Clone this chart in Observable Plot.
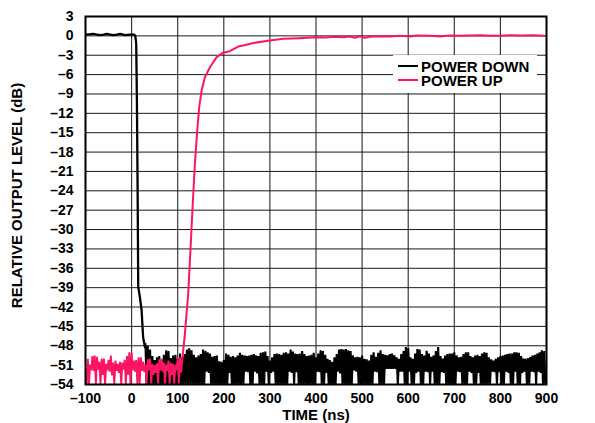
<!DOCTYPE html>
<html>
<head>
<meta charset="utf-8">
<script src="https://cdn.jsdelivr.net/npm/d3@7"></script>
<script src="https://cdn.jsdelivr.net/npm/@observablehq/plot@0.6"></script>
<style>
  html, body { margin: 0; padding: 0; background: #fff; }
  #wrap { position: relative; width: 595px; height: 423px; font-family: "Liberation Sans", Arial, sans-serif; }
  #legend { position: absolute; left: 393px; top: 55px; width: 144px; height: 38px; background: #fff;
            font-weight: bold; font-size: 15px; line-height: 13px; color: #000; }
  .row { position: absolute; left: 5px; display: flex; align-items: center; height: 13px; white-space: nowrap; }
  .sw { width: 20px; height: 0; border-top-width: 2.5px; border-top-style: solid; margin-right: 3px; }
</style>
</head>
<body>
<div id="wrap">
  <div id="chart"></div>
  <div id="legend">
    <div class="row" style="top:4.5px"><div class="sw" style="border-top-color:#000"></div><span>POWER DOWN</span></div>
    <div class="row" style="top:18.5px"><div class="sw" style="border-top-color:#ff1463"></div><span>POWER UP</span></div>
  </div>
</div>
<script>
// ---- axis ticks ----
const xTicks = [-100, 0, 100, 200, 300, 400, 500, 600, 700, 800, 900];
const yTicks = [3, 0, -3, -6, -9, -12, -15, -18, -21, -24, -27, -30, -33, -36, -39, -42, -45, -48, -51, -54];

// ---- POWER DOWN (black): settled trace and fall ----
const downTime  = [-100, -90, -83, -75, -69, -60, -54, -47, -40, -32, -25, -14, -4, 6, 8, 10, 11.5, 13, 14.4, 18, 21.7, 25, 29];
const downLevel = [0.2, 0.25, 0.3, 0.2, 0.1, 0.2, 0.3, 0.2, 0.1, 0.2, 0.3, 0.1, 0.2, 0.2, 0.0, -1.2, -10, -23.4, -38.9, -40.5, -42.5, -46.7, -48.2];

// ---- POWER DOWN noise floor: peaks every 5 ns from 30 ns, troughs between them ----
const downNoiseStart = 30;
const downNoisePeaks = [
  -47.6,-48.0,-48.6,-49.6,-50.2,-49.8,-49.6,-50.2,-49.4,-48.7,-48.8,-49.9,-49.5,-49.4,-50.0,-49.2,-49.8,-49.3,-48.6,-48.4,-48.7,-49.4,-49.8,
  -49.5,-49.3,-48.6,-48.8,-49.0,-49.2,-49.7,-49.6,-49.5,-50.4,-50.5,-50.2,-49.2,-49.4,-49.7,-49.6,-49.8,-49.5,-49.1,-49.4,-49.5,-49.6,-49.5,-49.4,-49.3,-49.5,
  -49.6,-49.1,-49.0,-48.9,-49.6,-50.3,-49.8,-49.3,-49.2,-49.3,-49.4,-49.1,-49.0,-49.2,-48.6,-48.9,-49.2,-49.3,-49.2,-48.8,-49.3,-49.6,-49.5,-49.4,-49.1,
  -49.8,-49.2,-48.7,-48.8,-49.4,-50.0,-50.2,-50.5,-49.8,-49.3,-48.6,-48.5,-48.6,-48.5,-48.7,-48.8,-49.5,-49.8,-49.7,-49.8,
  -49.5,-50.0,-50.1,-50.3,-49.4,-49.0,-49.7,-49.1,-48.7,-49.3,-49.4,-49.5,-49.3,-49.2,-49.5,-49.8,-50.0,-49.3,-48.8,-48.2,
  -48.4,-49.8,-50.0,-49.2,-48.5,-48.6,-49.3,-49.5,-48.8,-49.2,
  -49.7,-49.5,-48.8,-48.2,-49.6,-50.0,-49.5,-49.3,-49.2,-49.2,-49.0,-49.5,-49.8,-49.7,-49.3,-49.0,-49.0,-49.6,-49.8,-49.5,
  -49.4,-49.6,-49.2,-49.0,-49.1,-49.8,-50.1,-50.3,-50.0,-49.8,-49.6,-49.5,-49.4,-49.3,-49.2,-49.2,-49.0,-49.0,-49.1,-49.6,
  -50.0,-50.0,-49.9,-49.7,-49.5,-49.4,-49.2,-49.0,-48.7,-48.8
];
const downNoiseTroughs = [
  -53.9,-53.9,-53.9,-53.9,-53.9,-53.9,-53.9,-53.9,-53.9,-53.9,
  -53.9,-53.9,-53.9,-53.9,-53.9,-53.9,-53.9,-53.9,-53.9,-53.9,
  -53.9,-53.9,-53.9,-53.9,-53.9,-53.9,-52.0,-52.2,-53.9,-53.9,
  -53.9,-53.9,-53.9,-53.9,-53.9,-53.9,-52.2,-53.9,-53.9,-53.9,
  -53.9,-53.9,-53.9,-52.0,-52.1,-53.9,-53.9,-52.0,-52.3,-53.9,
  -53.9,-53.9,-52.0,-53.9,-52.2,-52.0,-53.9,-53.9,-53.9,-53.9,
  -53.9,-53.9,-52.0,-52.2,-53.9,-52.1,-53.9,-53.9,-53.9,-53.9,
  -53.9,-53.9,-53.9,-53.9,-52.0,-52.1,-53.9,-53.9,-52.2,-53.9,
  -53.9,-53.9,-53.9,-52.0,-52.3,-53.9,-53.9,-53.9,-53.9,-53.9,
  -51.8,-52.0,-53.9,-53.9,-53.9,-53.9,-53.9,-53.9,-53.9,-52.0,
  -52.1,-53.9,-53.9,-53.9,-51.6,-51.6,-51.6,-51.6,-51.6,-53.9,
  -52.0,-52.0,-53.9,-53.9,-52.0,-53.9,-53.9,-52.2,-52.0,-53.9,
  -53.9,-52.0,-52.1,-53.9,-52.0,-53.9,-53.9,-53.9,-52.1,-52.2,
  -53.9,-53.9,-53.9,-53.9,-53.9,-52.0,-52.1,-53.9,-53.9,-53.9,
  -52.0,-52.2,-53.9,-53.9,-52.2,-53.9,-53.9,-53.9,-53.9,-53.9,
  -52.0,-52.1,-53.9,-52.1,-53.9,-53.9,-52.0,-52.2,-53.9,-53.9,
  -52.0,-53.9,-53.9,-52.2,-52.0,-53.9,-53.9,-52.0,-52.1,-53.9,
  -52.0,-52.2,-53.9,-53.9
];

// ---- POWER UP (pink): noise floor before turn-on, peaks every 5 ns from -100 ns ----
const upNoiseStart = -100;
const upNoisePeaks = [
  -51.5,-50.0,-51.0,-49.6,-49.5,-49.7,-50.5,-50.0,-50.0,-50.8,
  -50.2,-49.5,-50.6,-50.3,-50.8,-50.5,-50.6,-50.2,-49.6,-49.0,
  -49.1,-50.3,-50.2,-49.8,-49.8,-50.5,-50.9,-50.1,-50.0,-50.8,
  -51.0,-50.7,-50.1,-50.0,-50.6,-50.9,-50.3,-50.6,-50.8,-50.9,
  -49.9,-49.8
];
const upNoiseTroughs = [
  -53.9,-53.9,-51.8,-51.9,-53.9,-51.7,-53.9,-52.5,-53.9,-51.8,
  -52.0,-52.6,-53.9,-51.9,-52.2,-53.9,-51.7,-53.9,-52.5,-53.9,
  -51.8,-52.0,-53.9,-53.9,-51.9,-52.1,-53.9,-51.8,-53.9,-52.5,
  -52.2,-53.9,-51.8,-52.0,-53.9,-51.9,-53.9,-52.5,-53.9,-51.8,
  -53.9,-52.0
];
// ---- POWER UP rise and settling ----
const upTime  = [107.5, 110, 112, 115.6, 122.8, 128, 132.3, 137.3, 142.3, 146.7, 151.8, 159, 170, 184.4, 198.8, 213, 231, 242, 264, 300, 329, 365,
                 380, 400, 420, 440, 460, 473, 484, 495, 506, 517, 538, 560, 582, 604, 618, 647, 669, 690, 712, 734, 760, 777, 800, 820, 845, 870, 895];
const upLevel = [-52.0, -50.0, -48.7, -46.2, -39.9, -32.7, -26.5, -19.8, -14.7, -11.0, -8.5, -6.4, -4.85, -3.3, -2.6, -2.37, -1.65, -1.5, -1.1, -0.72, -0.46, -0.36,
                 -0.3, -0.2, -0.25, -0.15, -0.2, -0.1, -0.3, -0.05, -0.3, -0.15, -0.05, -0.1, 0.0, -0.1, 0.05, 0.0, -0.1, 0.05, 0.0, 0.05, 0.1, 0.0, 0.0, 0.1, 0.05, 0.1, 0.0];

const noiseStep = 5;
function interleave(start, peaks, troughs) {
  const out = [];
  peaks.forEach((p, i) => {
    out.push({t: start + i * noiseStep, v: p});
    out.push({t: start + i * noiseStep + noiseStep / 2, v: troughs[i]});
  });
  return out;
}
const downMain = downTime.map((t, i) => ({t, v: downLevel[i]}));
const downNoise = [downMain[downMain.length - 1], ...interleave(downNoiseStart, downNoisePeaks, downNoiseTroughs)];
const upNoise = interleave(upNoiseStart, upNoisePeaks, upNoiseTroughs);
const upMain = upTime.map((t, i) => ({t, v: upLevel[i]}));

const fmt = d => d < 0 ? "\u2013" + Math.abs(d) : String(d);
const PINK = "#ff1463";
const FONT = "'Liberation Sans', Arial, sans-serif";

const chart = Plot.plot({
  width: 595,
  height: 423,
  marginLeft: 85,
  marginRight: 49,
  marginTop: 16,
  marginBottom: 39,
  style: {fontFamily: FONT, fontSize: "14px", fontWeight: "bold", color: "#000", background: "#fff"},
  x: {domain: [-100, 900]},
  y: {domain: [-54, 3]},
  marks: [
    Plot.gridX(xTicks, {stroke: "#2a2a2a", strokeOpacity: 1, strokeWidth: 1.1}),
    Plot.gridY(yTicks, {stroke: "#1a1a1a", strokeOpacity: 1, strokeWidth: 1}),
    Plot.axisX(xTicks, {tickSize: 0, tickPadding: 9, tickFormat: fmt, label: null, fontSize: 14, fontWeight: "bold"}),
    Plot.axisY(yTicks, {tickSize: 0, tickPadding: 12, tickFormat: fmt, label: null, fontSize: 14, fontWeight: "bold"}),
    Plot.line(downNoise, {x: "t", y: "v", stroke: "#000", strokeWidth: 2.1, strokeLinejoin: "miter", clip: true}),
    Plot.line(downMain, {x: "t", y: "v", stroke: "#000", strokeWidth: 2.3, clip: true}),
    Plot.line(upNoise, {x: "t", y: "v", stroke: PINK, strokeWidth: 1.9, strokeLinejoin: "miter", clip: true}),
    Plot.line([upNoise[upNoise.length - 1], ...upMain], {x: "t", y: "v", stroke: PINK, strokeWidth: 2, clip: true}),
    Plot.frame({stroke: "#000", strokeWidth: 2}),
    Plot.text(["TIME (ns)"], {text: d => d, frameAnchor: "bottom", lineAnchor: "middle", dy: 31, fontSize: 15, fontWeight: "bold"}),
    Plot.text(["RELATIVE OUTPUT LEVEL (dB)"], {text: d => d, frameAnchor: "left", textAnchor: "middle", lineAnchor: "middle", rotate: -90, dx: -68, dy: -5, fontSize: 15, fontWeight: "bold"})
  ]
});
document.getElementById("chart").appendChild(chart);
</script>
</body>
</html>
